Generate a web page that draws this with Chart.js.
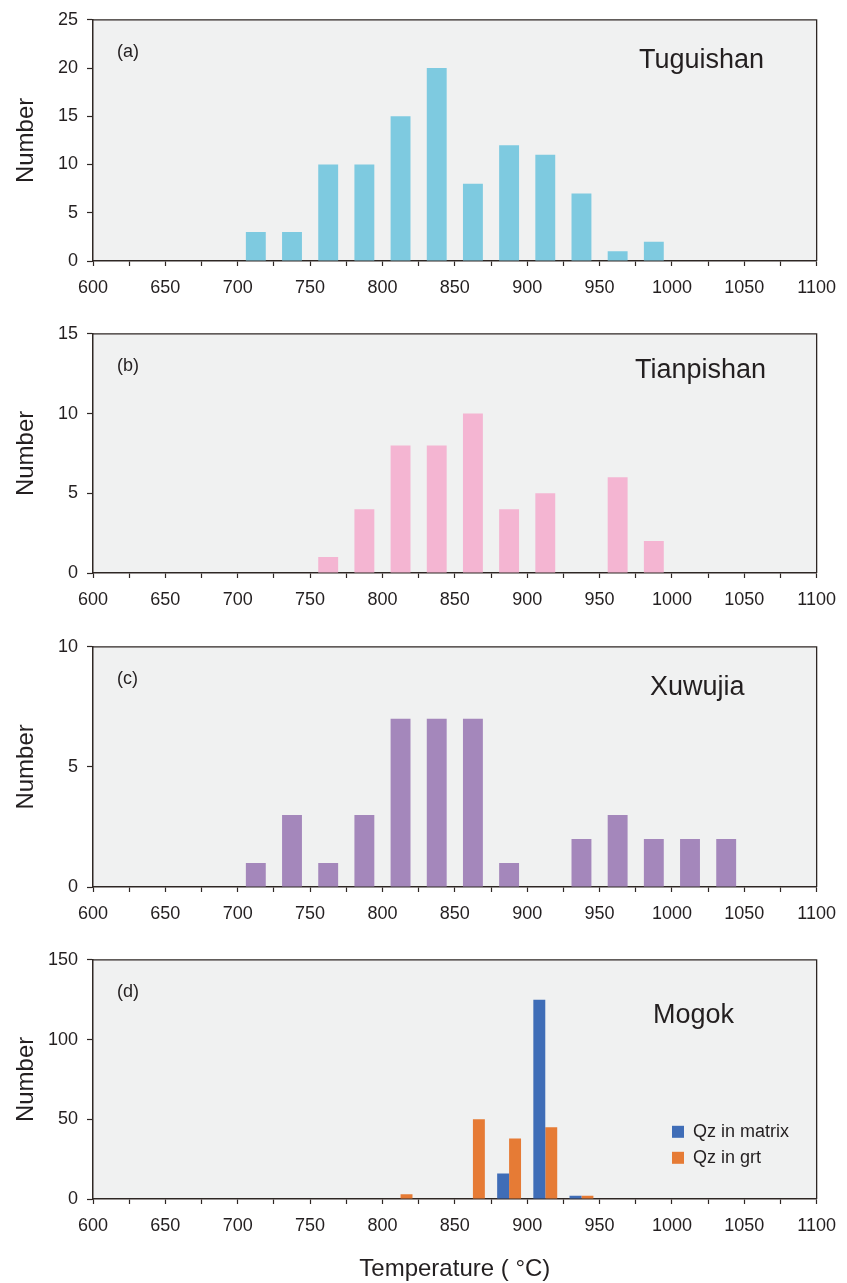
<!DOCTYPE html>
<html lang="en">
<head>
<meta charset="UTF-8">
<title>Temperature histograms</title>
<script src="https://cdn.jsdelivr.net/npm/chart.js@4"></script>
<style>
    body {
        margin: 0;
        background: #ffffff;
    }
    .panel {
        position: absolute;
        left: 0;
        width: 847px;
    }
</style>
</head>
<body>
<div class="panel" style="top:0px"><canvas id="chartA" width="847" height="301"></canvas></div>
<div class="panel" style="top:314px"><canvas id="chartB" width="847" height="299"></canvas></div>
<div class="panel" style="top:627px"><canvas id="chartC" width="847" height="300"></canvas></div>
<div class="panel" style="top:940px"><canvas id="chartD" width="847" height="343"></canvas></div>
<script>
// bin centres, 25 °C wide bins between 600 and 1100
const bins = [612.5, 637.5, 662.5, 687.5, 712.5, 737.5, 762.5, 787.5, 812.5, 837.5,
              862.5, 887.5, 912.5, 937.5, 962.5, 987.5, 1012.5, 1037.5, 1062.5, 1087.5];
const xTickLabels = [600, 650, 700, 750, 800, 850, 900, 950, 1000, 1050, 1100];

const tuguishan  = [0, 0, 0, 0, 3, 3, 10, 10, 15, 20, 8, 12, 11, 7, 1, 2, 0, 0, 0, 0];
const tianpishan = [0, 0, 0, 0, 0, 0, 1, 4, 8, 8, 10, 4, 5, 0, 6, 2, 0, 0, 0, 0];
const xuwujia    = [0, 0, 0, 0, 1, 3, 1, 3, 7, 7, 7, 1, 0, 2, 3, 2, 2, 2, 0, 0];
const mogokMatrix = [0, 0, 0, 0, 0, 0, 0, 0, 0, 0, 0, 16, 125, 2, 0, 0, 0, 0, 0, 0];
const mogokGrt    = [0, 0, 0, 0, 0, 0, 0, 0, 3, 0, 50, 38, 45, 2, 0, 0, 0, 0, 0, 0];

const yMaxA = 25, yStepA = 5;
const yMaxB = 15, yStepB = 5;
const yMaxC = 10, yStepC = 5;
const yMaxD = 150, yStepD = 50;

const INK = '#231f20';
const AXIS = '#2e2724';

Chart.defaults.font.family = '"Liberation Sans", Arial, Helvetica, sans-serif';
Chart.defaults.color = INK;

function toPoints(values) {
    return bins.map((b, i) => ({ x: b, y: values[i] }));
}

// plot background, frame, panel tag, locality name, legend
const panelDecor = {
    id: 'panelDecor',
    beforeDraw(chart) {
        const a = chart.chartArea;
        const ctx = chart.ctx;
        ctx.save();
        ctx.fillStyle = '#f0f1f1';
        ctx.fillRect(a.left, a.top, a.right - a.left, a.bottom - a.top);
        ctx.restore();
    },
    afterDraw(chart, args, opts) {
        const a = chart.chartArea;
        const ctx = chart.ctx;
        ctx.save();
        ctx.strokeStyle = AXIS;
        ctx.lineWidth = 1.3;
        ctx.beginPath();
        ctx.moveTo(a.left, a.top);
        ctx.lineTo(a.right, a.top);
        ctx.lineTo(a.right, a.bottom);
        ctx.stroke();

        ctx.fillStyle = INK;
        ctx.textBaseline = 'middle';
        ctx.textAlign = 'left';
        ctx.font = '18px "Liberation Sans", Arial, sans-serif';
        ctx.fillText(opts.tag, a.left + 24, a.top + 32);
        ctx.font = '27px "Liberation Sans", Arial, sans-serif';
        ctx.fillText(opts.name, opts.nameX, a.top + opts.nameDy);

        if (opts.legend) {
            ctx.font = '18px "Liberation Sans", Arial, sans-serif';
            chart.data.datasets.forEach((ds, i) => {
                const y = a.top + 172 + i * 26;
                ctx.fillStyle = ds.backgroundColor;
                ctx.fillRect(672, y - 6, 12, 12);
                ctx.fillStyle = INK;
                ctx.fillText(ds.label, 693, y);
            });
        }
        ctx.restore();
    }
};

function makeChart(id, datasets, yMax, yStep, decor, extra) {
    const withTitle = !!extra.xTitle;
    return new Chart(document.getElementById(id), {
        type: 'bar',
        data: { datasets: datasets },
        options: {
            responsive: false,
            animation: false,
            layout: { padding: { top: 19, right: 27, left: 0, bottom: 0 } },
            plugins: {
                legend: { display: false },
                tooltip: { enabled: false },
                panelDecor: decor
            },
            datasets: {
                bar: {
                    borderWidth: 0,
                    categoryPercentage: extra.categoryPercentage,
                    barPercentage: extra.barPercentage,
                    grouped: true
                }
            },
            scales: {
                x: {
                    type: 'linear',
                    min: 600,
                    max: 1100,
                    offset: false,
                    afterFit: (s) => { s.height = withTitle ? 84 : 40; },
                    ticks: {
                        stepSize: 25,
                        autoSkip: false,
                        maxRotation: 0,
                        padding: 11,
                        font: { size: 18 },
                        color: INK,
                        callback: (v) => xTickLabels.includes(v) ? String(v) : ''
                    },
                    grid: {
                        offset: false,
                        drawOnChartArea: false,
                        tickLength: 5,
                        color: AXIS,
                        tickWidth: 1.2
                    },
                    border: { display: true, color: AXIS, width: 1.5 },
                    title: {
                        display: withTitle,
                        text: extra.xTitle || '',
                        font: { size: 24 },
                        color: INK,
                        padding: { top: 0, bottom: -1 }
                    }
                },
                y: {
                    min: 0,
                    max: yMax,
                    afterFit: (s) => { s.width = 93; },
                    ticks: {
                        stepSize: yStep,
                        padding: 9,
                        font: { size: 18 },
                        color: INK
                    },
                    grid: {
                        drawOnChartArea: false,
                        tickLength: 6,
                        color: AXIS,
                        tickWidth: 1.2
                    },
                    border: { display: true, color: AXIS, width: 1.5 },
                    title: {
                        display: true,
                        text: 'Number',
                        font: { size: 24 },
                        color: INK,
                        padding: { top: 12, bottom: 0 }
                    }
                }
            }
        },
        plugins: [panelDecor]
    });
}

const single = { categoryPercentage: 1, barPercentage: 0.55 };

makeChart('chartA', [{
    label: 'Tuguishan',
    data: toPoints(tuguishan),
    backgroundColor: '#7ecae0'
}], yMaxA, yStepA, { tag: '(a)', name: 'Tuguishan', nameX: 639, nameDy: 41 }, single);

makeChart('chartB', [{
    label: 'Tianpishan',
    data: toPoints(tianpishan),
    backgroundColor: '#f4b5d2'
}], yMaxB, yStepB, { tag: '(b)', name: 'Tianpishan', nameX: 635, nameDy: 37 }, single);

makeChart('chartC', [{
    label: 'Xuwujia',
    data: toPoints(xuwujia),
    backgroundColor: '#a487bb'
}], yMaxC, yStepC, { tag: '(c)', name: 'Xuwujia', nameX: 650, nameDy: 41 }, single);

makeChart('chartD', [{
    label: 'Qz in matrix',
    data: toPoints(mogokMatrix),
    backgroundColor: '#3f6db7'
}, {
    label: 'Qz in grt',
    data: toPoints(mogokGrt),
    backgroundColor: '#e67b35'
}], yMaxD, yStepD, { tag: '(d)', name: 'Mogok', nameX: 653, nameDy: 56, legend: true },
    { categoryPercentage: 0.66, barPercentage: 1, xTitle: 'Temperature ( °C)' });
</script>
</body>
</html>
